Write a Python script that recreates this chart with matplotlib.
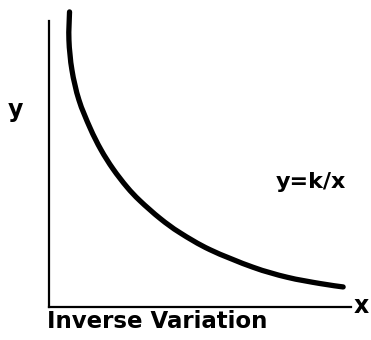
import matplotlib
matplotlib.use("Agg")
import matplotlib.pyplot as plt
import numpy as np
from matplotlib.path import Path
from matplotlib.patches import PathPatch

# Points along the inverse-variation curve y = k/x (sketched, axis units 0..10)
curve_x = [0.68, 0.66, 0.76, 0.99, 1.36, 1.72, 2.12, 2.58, 3.01, 3.68, 4.34,
           5.33, 6.75, 7.88, 8.97, 9.74]
curve_y = [10.30, 9.32, 8.27, 7.23, 6.25, 5.49, 4.82, 4.19, 3.71, 3.09, 2.59,
           2.00, 1.39, 1.04, 0.82, 0.70]

x_label = "x"
y_label = "y"
equation = "y=k/x"
title = "Inverse Variation"


def smooth_path(xs, ys):
    """Cubic Bezier path passing through every point (Catmull-Rom tangents)."""
    p = np.column_stack([xs, ys])
    n = len(p)
    verts = [p[0]]
    codes = [Path.MOVETO]
    for i in range(n - 1):
        p0 = p[max(i - 1, 0)]
        p1, p2 = p[i], p[i + 1]
        p3 = p[min(i + 2, n - 1)]
        c1 = p1 + (p2 - p0) / 6.0
        c2 = p2 - (p3 - p1) / 6.0
        verts += [c1, c2, p2]
        codes += [Path.CURVE4] * 3
    return Path(verts, codes)


W, H = 371, 340
fig = plt.figure(figsize=(W / 100, H / 100), dpi=100)
ax = fig.add_axes([49 / W, (H - 307) / H, (351 - 49) / W, (307 - 20.5) / H])
ax.set_xlim(0, 10)
ax.set_ylim(0, 10)

for side in ("top", "right"):
    ax.spines[side].set_visible(False)
for side in ("left", "bottom"):
    ax.spines[side].set_linewidth(1.6)
    ax.spines[side].set_color("black")
ax.set_xticks([])
ax.set_yticks([])

patch = PathPatch(smooth_path(curve_x, curve_y), facecolor="none",
                  edgecolor="black", linewidth=3.8, capstyle="round",
                  joinstyle="round", clip_on=False)
ax.add_patch(patch)

font = dict(family="DejaVu Sans", weight="bold", color="black")
fig.text(15 / W, 1 - 110 / H, y_label, ha="center", va="center", fontsize=17, **font)
fig.text(361 / W, 1 - 306 / H, x_label, ha="center", va="center", fontsize=17, **font)
fig.text(311 / W, 1 - 182 / H, equation, ha="center", va="center", fontsize=16, **font)
fig.text(47 / W, 1 - 321 / H, title, ha="left", va="center", fontsize=16.5, **font)

fig.savefig("out.png", dpi=100)
